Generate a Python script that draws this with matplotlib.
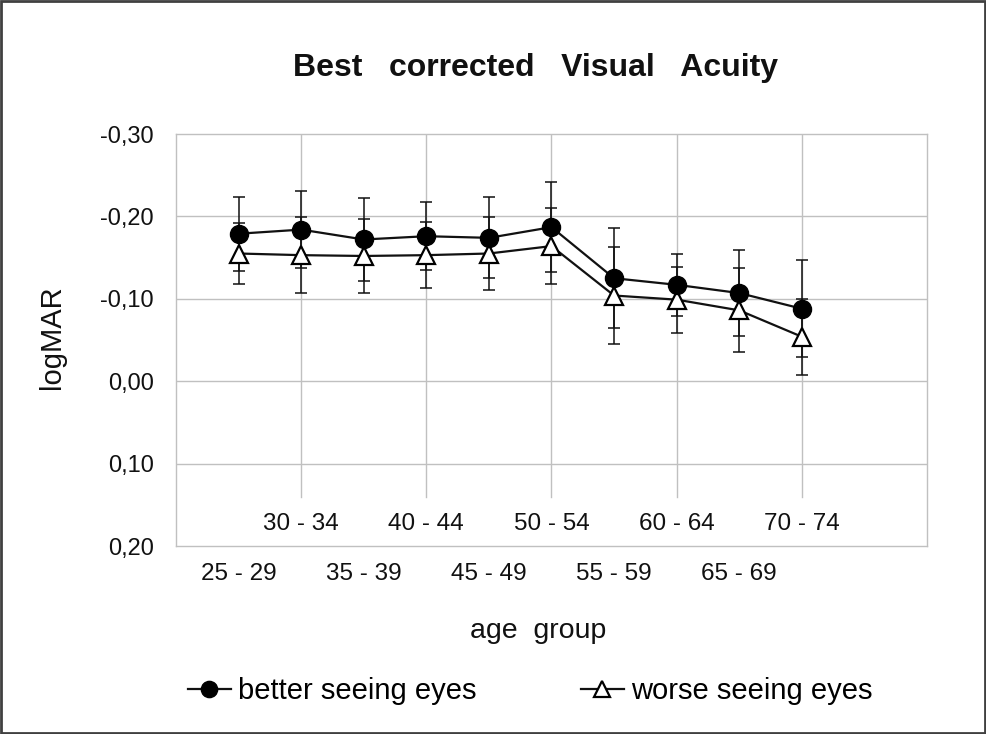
import matplotlib.pyplot as plt
from matplotlib.lines import Line2D
from matplotlib.patches import Rectangle

plt.rcParams['font.family'] = ['Liberation Sans', 'DejaVu Sans']

age_groups = ['25 - 29', '30 - 34', '35 - 39', '40 - 44', '45 - 49',
              '50 - 54', '55 - 59', '60 - 64', '65 - 69', '70 - 74']
better_mean = [-0.179, -0.184, -0.172, -0.176, -0.174, -0.187, -0.125, -0.117, -0.107, -0.088]
better_sd = [0.045, 0.047, 0.050, 0.041, 0.049, 0.055, 0.061, 0.038, 0.052, 0.059]
worse_mean = [-0.155, -0.153, -0.152, -0.153, -0.155, -0.164, -0.104, -0.099, -0.086, -0.054]
worse_sd = [0.037, 0.046, 0.045, 0.040, 0.044, 0.046, 0.059, 0.040, 0.051, 0.046]
y_ticks = [-0.30, -0.20, -0.10, 0.00, 0.10, 0.20]

grid_col = '#c0c0c0'
text_col = '#111111'

fig = plt.figure(figsize=(9.87, 7.34), dpi=100)
ax = fig.add_axes([0.1783, 0.2561, 0.7609, 0.5613])

x = list(range(1, len(age_groups) + 1))

# error bars first, markers on top
ax.errorbar(x, better_mean, yerr=better_sd, fmt='none', ecolor='#111111',
            elinewidth=1.1, capsize=4.5, capthick=1.1, zorder=3)
ax.errorbar(x, worse_mean, yerr=worse_sd, fmt='none', ecolor='#111111',
            elinewidth=1.1, capsize=4.5, capthick=1.1, zorder=3)
ax.plot(x, better_mean, '-o', color='#111111', lw=1.6, ms=13,
        mfc='black', mec='black', zorder=5)
ax.plot(x, worse_mean, '-^', color='#111111', lw=1.6, ms=13,
        mfc='white', mec='black', mew=1.6, zorder=4)

ax.set_xlim(0, 12)
ax.set_ylim(0.20, -0.30)
ax.set_yticks(y_ticks)
ax.set_yticklabels([f'{v:.2f}'.replace('.', ',') for v in y_ticks],
                   fontsize=17, color=text_col)
ax.tick_params(axis='y', length=0, pad=16)
ax.set_xticks([])

# grid
for v in y_ticks[1:-1]:
    ax.axhline(v, color=grid_col, lw=1.0, zorder=1)
for gx in range(2, 12, 2):
    ax.axvline(gx, ymin=0.119, ymax=1, color=grid_col, lw=1.0, zorder=1)
for s in ax.spines.values():
    s.set_color(grid_col)
    s.set_linewidth(1.0)

# staggered category labels (Excel style)
for i, lab in enumerate(age_groups):
    off = 15.5 if i % 2 else -20
    ax.annotate(lab, xy=(x[i], 0), xycoords=('data', 'axes fraction'),
                xytext=(0, off), textcoords='offset points',
                ha='center', va='center', fontsize=17.5, color=text_col,
                annotation_clip=False)

fig.text(0.5425, 1 - 76 / 734, 'Best   corrected   Visual   Acuity', ha='center',
         va='baseline', fontsize=23, fontweight='bold', color=text_col)
fig.text(0.545, 1 - 638 / 734, 'age  group', ha='center', va='baseline',
         fontsize=20.5, color=text_col)
fig.text(0.053, 1 - 337 / 734, 'logMAR', ha='center', va='center',
         rotation=90, fontsize=21, color=text_col)

handles = [
    Line2D([], [], color='#111111', lw=1.6, marker='o', ms=13, mfc='black', mec='black'),
    Line2D([], [], color='#111111', lw=1.6, marker='^', ms=13, mfc='white', mec='black', mew=1.6),
]
fig.legend(handles, ['better seeing eyes', 'worse seeing eyes'], loc='center',
           bbox_to_anchor=(0.537, 1 - 691 / 734), ncol=2, frameon=False,
           fontsize=21, handlelength=1.47, handletextpad=0.24,
           columnspacing=3.6, markerscale=0.9)

fig.patches.append(Rectangle((0.001, 0.001), 0.997, 0.997, transform=fig.transFigure,
                             fill=False, edgecolor='#404040', lw=2))

plt.savefig('out.png', dpi=100)
